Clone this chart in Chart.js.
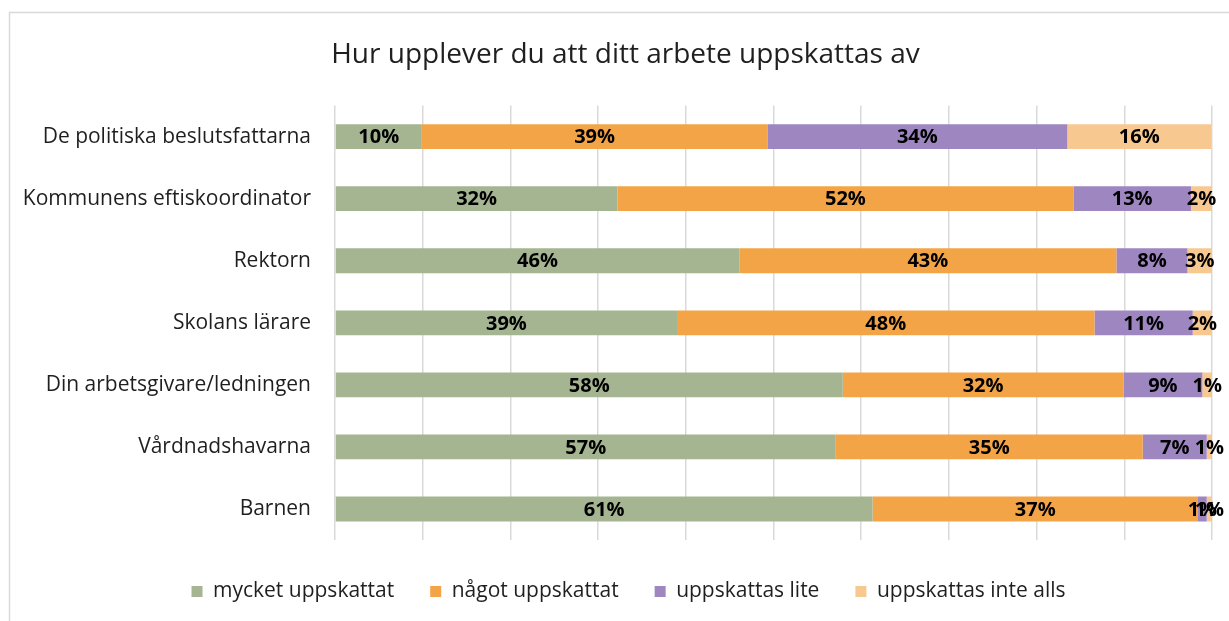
<!DOCTYPE html>
<html>
<head>
<meta charset="utf-8">
<script src="https://cdn.jsdelivr.net/npm/chart.js@4/dist/chart.umd.min.js"></script>
<style>
  html, body { margin: 0; padding: 0; background: #fff; }
  #wrap { width: 1229px; height: 621px; position: relative; }
</style>
</head>
<body>
<div id="wrap"><canvas id="chart" width="1229" height="621"></canvas></div>
<script>
// Survey: how is your work appreciated by ... (share of answers, %)
const categories = [
  'De politiska beslutsfattarna',
  'Kommunens eftiskoordinator',
  'Rektorn',
  'Skolans lärare',
  'Din arbetsgivare/ledningen',
  'Vårdnadshavarna',
  'Barnen'
];
const seriesNames = ['mycket uppskattat', 'något uppskattat', 'uppskattas lite', 'uppskattas inte alls'];
const mycket = [9.9, 32.2, 46.1, 39.0, 57.9, 57.1, 61.3];
const nagot = [39.4, 52.0, 43.0, 47.6, 32.0, 35.0, 37.1];
const lite = [34.2, 13.4, 8.1, 11.2, 9.0, 7.3, 1.0];
const inteAlls = [16.4, 2.4, 2.8, 2.2, 1.1, 0.6, 0.6];
const xTicks = [0, 10, 20, 30, 40, 50, 60, 70, 80, 90, 100];

const colors = ['#a5b592', '#f3a447', '#9e86c0', '#f7c890'];
const FONT = '"Open Sans", Lato, sans-serif';

// outer frame of the chart object
const framePlugin = {
  id: 'frame',
  beforeDraw(chart) {
    const ctx = chart.ctx;
    ctx.save();
    ctx.fillStyle = '#fff';
    ctx.fillRect(0, 0, chart.width, chart.height);
    ctx.strokeStyle = '#d9d9d9';
    ctx.lineWidth = 1.5;
    ctx.strokeRect(9.5, 12.5, chart.width + 20, chart.height + 20);
    ctx.restore();
  }
};

// title and legend sit a little right of the canvas centre
const nudgeBoxes = {
  id: 'nudgeBoxes',
  afterLayout(chart) {
    const t = chart.titleBlock, l = chart.legend;
    if (t) { t.left += 9; t.right += 9; }
    if (l) { l.left += 12; l.right += 12; }
  }
};

// percentage labels centred in each segment
const valueLabels = {
  id: 'valueLabels',
  afterDatasetsDraw(chart) {
    const ctx = chart.ctx;
    ctx.save();
    ctx.font = 'bold 20px ' + FONT;
    ctx.fillStyle = '#000';
    ctx.textAlign = 'center';
    ctx.textBaseline = 'middle';
    chart.data.datasets.forEach((ds, i) => {
      chart.getDatasetMeta(i).data.forEach((bar, j) => {
        const v = ds.data[j];
        const cx = (bar.x + bar.base) / 2;
        ctx.fillText(Math.round(v) + '%', cx, bar.y + 1);
      });
    });
    ctx.restore();
  }
};

new Chart(document.getElementById('chart'), {
  type: 'bar',
  data: {
    labels: categories,
    datasets: [mycket, nagot, lite, inteAlls].map((d, i) => ({
      label: seriesNames[i],
      data: d,
      backgroundColor: colors[i],
      borderWidth: 0,
      barPercentage: 0.8,
      categoryPercentage: 0.5
    }))
  },
  options: {
    indexAxis: 'y',
    responsive: false,
    animation: false,
    layout: { padding: { left: 21, right: 17, top: 0, bottom: 9 } },
    scales: {
      x: {
        stacked: true,
        min: 0,
        max: 100,
        afterBuildTicks(scale) { scale.ticks = xTicks.map(v => ({ value: v })); },
        afterFit(scale) { scale.height = 5; },
        ticks: { display: false },
        grid: { color: '#d9d9d9', lineWidth: 1.5, drawTicks: false },
        border: { display: false }
      },
      y: {
        stacked: true,
        afterFit(scale) { scale.width = 314; },
        ticks: { color: '#1f1f1f', font: { family: FONT, size: 21 }, padding: 24 },
        grid: { display: false, drawTicks: false },
        border: { display: false }
      }
    },
    plugins: {
      title: {
        display: true,
        text: 'Hur upplever du att ditt arbete uppskattas av',
        color: '#1f1f1f',
        font: { family: FONT, size: 28, weight: 'normal' },
        padding: { top: 38, bottom: 34 }
      },
      legend: {
        position: 'bottom',
        labels: {
          color: '#1f1f1f',
          font: { family: FONT, size: 21 },
          boxWidth: 11,
          boxHeight: 11,
          padding: 36
        }
      },
      tooltip: { enabled: false }
    }
  },
  plugins: [framePlugin, nudgeBoxes, valueLabels]
});
</script>
</body>
</html>
